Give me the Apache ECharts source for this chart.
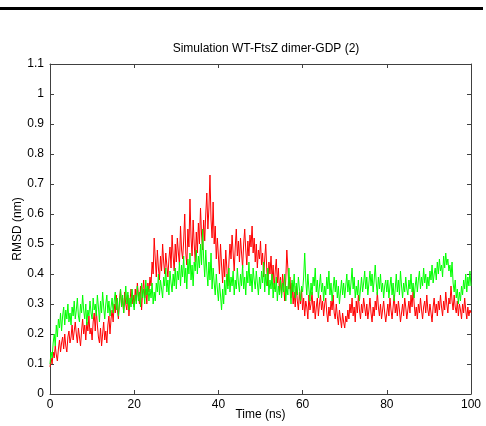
<!DOCTYPE html>
<html><head><meta charset="utf-8">
<script src="https://cdn.jsdelivr.net/npm/echarts@6/dist/echarts.min.js"></script>
<style>html,body{margin:0;padding:0;background:#fff}#c{width:486px;height:426px}</style>
</head><body><div id="c"></div>
<script>
const titleText = "Simulation WT-FtsZ dimer-GDP (2)";
const xName = "Time (ns)";
const yName = "RMSD (nm)";
const timeStep = 0.25;
const redValues = [
0.09,0.12,0.1,0.14,0.12,0.16,0.13,0.11,0.15,0.18,0.14,0.17,0.19,0.15,0.2,0.16,0.14,0.19,0.21,0.17,
0.19,0.23,0.18,0.21,0.24,0.2,0.17,0.22,0.19,0.16,0.21,0.25,0.2,0.23,0.18,0.24,0.21,0.26,0.2,0.22,
0.18,0.24,0.27,0.21,0.28,0.23,0.19,0.17,0.22,0.16,0.2,0.24,0.18,0.21,0.17,0.23,0.26,0.2,0.25,0.28,
0.24,0.3,0.27,0.33,0.28,0.25,0.31,0.35,0.29,0.32,0.27,0.34,0.3,0.28,0.33,0.26,0.31,0.35,0.3,0.33,
0.29,0.35,0.31,0.37,0.33,0.3,0.36,0.28,0.34,0.38,0.32,0.35,0.3,0.37,0.34,0.39,0.36,0.44,0.4,0.52,
0.45,0.39,0.48,0.42,0.38,0.46,0.41,0.5,0.44,0.4,0.47,0.43,0.39,0.45,0.49,0.42,0.53,0.46,0.41,0.5,
0.44,0.52,0.47,0.43,0.56,0.48,0.45,0.51,0.6,0.47,0.43,0.55,0.49,0.65,0.52,0.46,0.58,0.5,0.44,0.54,
0.47,0.57,0.5,0.62,0.53,0.48,0.58,0.51,0.6,0.67,0.55,0.62,0.73,0.58,0.52,0.64,0.5,0.56,0.45,0.52,
0.46,0.4,0.5,0.43,0.37,0.45,0.39,0.48,0.42,0.36,0.44,0.5,0.45,0.53,0.47,0.41,0.49,0.55,0.46,0.51,
0.44,0.52,0.47,0.42,0.5,0.55,0.48,0.43,0.51,0.46,0.53,0.49,0.56,0.47,0.52,0.44,0.5,0.42,0.48,0.45,
0.51,0.43,0.47,0.39,0.45,0.5,0.41,0.36,0.44,0.4,0.46,0.38,0.43,0.35,0.41,0.45,0.37,0.42,0.34,0.39,
0.33,0.4,0.36,0.31,0.38,0.48,0.42,0.35,0.39,0.32,0.37,0.3,0.34,0.29,0.36,0.31,0.28,0.34,0.3,0.35,
0.28,0.32,0.26,0.31,0.29,0.25,0.33,0.28,0.3,0.34,0.27,0.31,0.25,0.29,0.32,0.26,0.3,0.33,0.28,0.31,
0.26,0.3,0.32,0.27,0.24,0.29,0.26,0.31,0.28,0.33,0.27,0.25,0.3,0.26,0.23,0.28,0.25,0.22,0.27,0.24,
0.22,0.26,0.24,0.28,0.25,0.3,0.27,0.32,0.26,0.29,0.24,0.31,0.27,0.33,0.28,0.25,0.3,0.27,0.32,0.29,
0.26,0.3,0.25,0.28,0.32,0.27,0.24,0.29,0.26,0.31,0.28,0.34,0.29,0.26,0.3,0.25,0.28,0.31,0.27,0.24,
0.27,0.3,0.26,0.32,0.28,0.25,0.29,0.33,0.27,0.3,0.26,0.31,0.28,0.24,0.27,0.3,0.26,0.32,0.29,0.25,
0.28,0.31,0.27,0.33,0.29,0.35,0.3,0.26,0.29,0.25,0.3,0.27,0.32,0.28,0.25,0.29,0.31,0.27,0.33,0.28,
0.26,0.3,0.27,0.24,0.29,0.32,0.27,0.3,0.26,0.31,0.28,0.33,0.29,0.26,0.31,0.28,0.34,0.3,0.27,0.32,
0.3,0.36,0.31,0.28,0.33,0.29,0.27,0.31,0.26,0.3,0.28,0.25,0.3,0.27,0.32,0.28,0.25,0.29,0.26,0.28,
0.27];
const greenValues = [
0.1,0.14,0.12,0.17,0.2,0.16,0.23,0.19,0.25,0.22,0.27,0.21,0.26,0.29,0.23,0.28,0.25,0.3,0.24,0.27,
0.23,0.29,0.26,0.31,0.25,0.28,0.32,0.26,0.24,0.3,0.27,0.33,0.28,0.25,0.3,0.23,0.28,0.26,0.31,0.27,
0.25,0.32,0.28,0.3,0.26,0.33,0.29,0.24,0.31,0.27,0.34,0.29,0.25,0.3,0.33,0.27,0.31,0.26,0.29,0.32,
0.27,0.31,0.34,0.28,0.32,0.26,0.3,0.35,0.29,0.33,0.27,0.31,0.36,0.3,0.34,0.28,0.32,0.29,0.35,0.31,
0.28,0.33,0.3,0.36,0.31,0.34,0.29,0.37,0.32,0.35,0.3,0.38,0.33,0.36,0.31,0.35,0.32,0.37,0.3,0.34,
0.31,0.37,0.34,0.4,0.33,0.38,0.35,0.32,0.39,0.36,0.42,0.34,0.38,0.33,0.41,0.37,0.34,0.4,0.36,0.42,
0.35,0.41,0.38,0.44,0.36,0.43,0.39,0.46,0.37,0.42,0.35,0.45,0.4,0.47,0.38,0.43,0.36,0.44,0.41,0.48,
0.4,0.46,0.42,0.5,0.43,0.55,0.45,0.39,0.48,0.41,0.36,0.44,0.38,0.47,0.35,0.42,0.37,0.33,0.4,0.35,
0.31,0.37,0.33,0.28,0.35,0.3,0.38,0.33,0.4,0.35,0.42,0.34,0.39,0.36,0.41,0.33,0.38,0.35,0.42,0.37,
0.34,0.4,0.36,0.43,0.35,0.39,0.33,0.41,0.37,0.44,0.36,0.4,0.34,0.42,0.38,0.35,0.41,0.37,0.33,0.39,
0.35,0.41,0.37,0.44,0.34,0.4,0.36,0.42,0.33,0.38,0.35,0.4,0.32,0.37,0.34,0.39,0.31,0.36,0.33,0.38,
0.32,0.37,0.34,0.4,0.31,0.36,0.33,0.42,0.35,0.3,0.38,0.34,0.4,0.32,0.37,0.33,0.39,0.35,0.31,0.36,
0.34,0.39,0.47,0.38,0.33,0.4,0.35,0.31,0.37,0.33,0.39,0.36,0.42,0.34,0.38,0.32,0.36,0.4,0.34,0.37,
0.31,0.36,0.33,0.39,0.35,0.41,0.33,0.37,0.31,0.35,0.39,0.34,0.38,0.32,0.36,0.3,0.34,0.38,0.33,0.37,
0.32,0.36,0.4,0.34,0.38,0.33,0.37,0.42,0.35,0.39,0.32,0.36,0.33,0.38,0.31,0.35,0.39,0.34,0.37,0.41,
0.35,0.39,0.33,0.37,0.41,0.36,0.4,0.34,0.38,0.43,0.37,0.33,0.39,0.35,0.4,0.34,0.37,0.32,0.36,0.38,
0.34,0.38,0.32,0.36,0.39,0.33,0.37,0.31,0.35,0.4,0.34,0.38,0.33,0.41,0.36,0.32,0.37,0.34,0.39,0.35,
0.33,0.38,0.35,0.4,0.34,0.37,0.32,0.36,0.39,0.34,0.38,0.41,0.35,0.39,0.36,0.42,0.37,0.4,0.35,0.39,
0.36,0.41,0.38,0.43,0.37,0.4,0.42,0.38,0.44,0.4,0.45,0.41,0.43,0.39,0.46,0.42,0.47,0.43,0.45,0.41,
0.43,0.39,0.44,0.37,0.34,0.38,0.32,0.35,0.3,0.34,0.31,0.36,0.33,0.38,0.35,0.4,0.34,0.39,0.36,0.41,
0.36];
const xTicks = [0, 20, 40, 60, 80, 100];
const yTicks = [0, 0.1, 0.2, 0.3, 0.4, 0.5, 0.6, 0.7, 0.8, 0.9, 1, 1.1];

const toPairs = vals => vals.map((v, i) => [i * timeStep, v]);
const font = "'Liberation Sans', Arial, sans-serif";
const axisCol = '#404040';
const chart = echarts.init(document.getElementById('c'), null, {renderer: 'canvas'});
const baseX = {
  type: 'value', min: 0, max: 100, interval: 20,
  axisLine: {show: true, onZero: false, lineStyle: {color: axisCol, width: 1}},
  axisTick: {show: true, inside: true, length: 4, lineStyle: {color: axisCol}},
  splitLine: {show: false}
};
const baseY = {
  type: 'value', min: 0, max: 1.1, interval: 0.1,
  axisLine: {show: true, onZero: false, lineStyle: {color: axisCol, width: 1}},
  axisTick: {show: true, inside: true, length: 4, lineStyle: {color: axisCol}},
  splitLine: {show: false}
};
chart.setOption({
  animation: false,
  backgroundColor: '#fff',
  title: {text: titleText, left: 261, top: 38, textAlign: 'center',
    textStyle: {fontFamily: font, fontSize: 12, fontWeight: 'normal', color: '#000'}},
  grid: {left: 50, right: 15, top: 64, bottom: 32, containLabel: false, outerBoundsMode: 'none'},
  graphic: [{type: 'rect', shape: {x: 0, y: 7, width: 483, height: 3}, style: {fill: '#000'}}],
  xAxis: [
    Object.assign({}, baseX, {position: 'bottom', name: xName, nameLocation: 'middle', nameGap: 15,
      nameMoveOverlap: false,
      nameTextStyle: {fontFamily: font, fontSize: 12, color: '#000'},
      axisLabel: {fontFamily: font, fontSize: 12, color: '#000', margin: 5,
        formatter: v => xTicks.includes(v) ? String(v) : ''}}),
    Object.assign({}, baseX, {position: 'top', axisLabel: {show: false}})
  ],
  yAxis: [
    Object.assign({}, baseY, {position: 'left', name: yName, nameLocation: 'middle', nameGap: 26,
      nameMoveOverlap: false,
      nameTextStyle: {fontFamily: font, fontSize: 12, color: '#000'},
      axisLabel: {fontFamily: font, fontSize: 12, color: '#000', margin: 6,
        formatter: v => { const t = yTicks.find(k => Math.abs(k - v) < 1e-6); return t === undefined ? '' : String(t); }}}),
    Object.assign({}, baseY, {position: 'right', axisLabel: {show: false}})
  ],
  series: [
    {type: 'line', name: 'red', data: toPairs(redValues), showSymbol: false, symbol: 'none',
      lineStyle: {color: '#ff0000', width: 1}, xAxisIndex: 0, yAxisIndex: 0, z: 2},
    {type: 'line', name: 'green', data: toPairs(greenValues), showSymbol: false, symbol: 'none',
      lineStyle: {color: '#00ff00', width: 1}, xAxisIndex: 0, yAxisIndex: 0, z: 3}
  ]
});
</script></body></html>
